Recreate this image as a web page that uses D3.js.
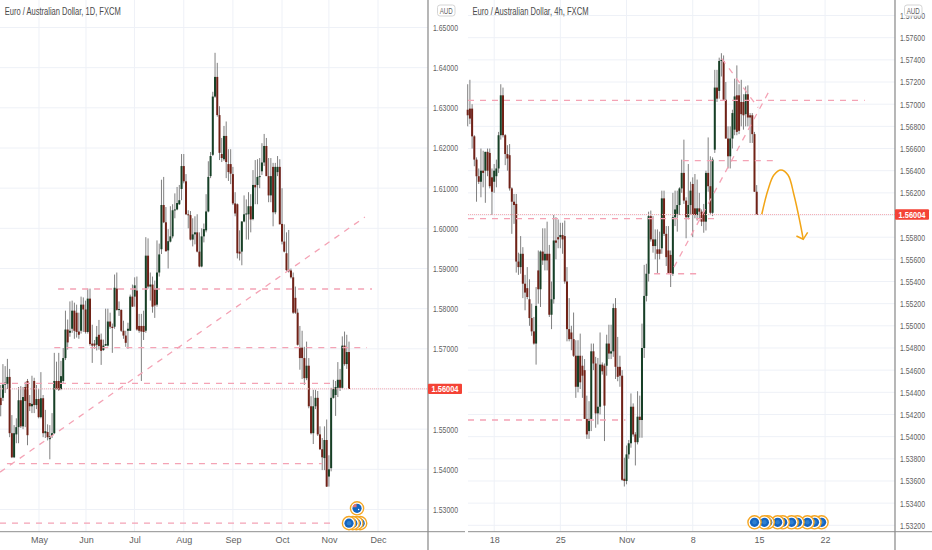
<!DOCTYPE html>
<html><head><meta charset="utf-8">
<script src="https://cdn.jsdelivr.net/npm/d3@7/dist/d3.min.js"></script>
<style>
html,body{margin:0;padding:0;background:#fff}
svg{display:block}
text{font-family:"Liberation Sans",Arial,sans-serif}
</style></head><body>
<svg id="c" width="932" height="550"></svg>
<script>
// ---- daily chart (left) ----
const dayOpen=[1.5578,1.5578,1.5611,1.5613,1.5630,1.5490,1.5430,1.5487,1.5505,1.5572,
1.5507,1.5605,1.5620,1.5565,1.5557,1.5620,1.5560,1.5575,1.5530,1.5577,
1.5490,1.5493,1.5475,1.5483,1.5490,1.5620,1.5620,1.5600,1.5620,1.5677,
1.5748,1.5740,1.5750,1.5795,1.5790,1.5743,1.5745,1.5810,1.5798,1.5742,
1.5825,1.5713,1.5713,1.5710,1.5735,1.5723,1.5697,1.5708,1.5708,1.5768,
1.5755,1.5755,1.5850,1.5797,1.5797,1.5745,1.5733,1.5745,1.5745,1.5830,
1.5830,1.5845,1.5757,1.5757,1.5757,1.5745,1.5932,1.5855,1.5860,1.5850,
1.5810,1.5890,1.5948,1.6058,1.6015,1.5945,1.5967,1.5980,1.6045,1.6047,
1.6060,1.6098,1.6155,1.6117,1.6035,1.6033,1.5972,1.5985,1.5990,1.5942,
1.5905,1.5980,1.5995,1.6042,1.6130,1.6183,1.6328,1.6377,1.6282,1.6185,
1.6172,1.6230,1.6160,1.6160,1.6135,1.6062,1.6060,1.5942,1.5942,1.6017,
1.6035,1.6035,1.6055,1.6023,1.6108,1.6108,1.6128,1.6142,1.6164,1.6205,
1.6130,1.6082,1.6153,1.6040,1.6140,1.6153,1.6011,1.5967,1.5938,1.5896,
1.5895,1.5878,1.5827,1.5790,1.5703,1.5703,1.5677,1.5627,1.5658,1.5557,
1.5490,1.5557,1.5578,1.5487,1.5450,1.5428,1.5473,1.5382,1.5403,1.5578,
1.5585,1.5603,1.5623,1.5603,1.5708,1.5662,1.5692];
const dayHigh=[1.5610,1.5662,1.5657,1.5675,1.5650,1.5535,1.5510,1.5527,1.5605,1.5607,
1.5605,1.5618,1.5625,1.5585,1.5633,1.5628,1.5610,1.5600,1.5642,1.5585,
1.5548,1.5512,1.5510,1.5540,1.5690,1.5668,1.5690,1.5670,1.5702,1.5795,
1.5773,1.5818,1.5820,1.5815,1.5810,1.5790,1.5830,1.5828,1.5820,1.5850,
1.5850,1.5760,1.5722,1.5757,1.5772,1.5738,1.5723,1.5800,1.5800,1.5790,
1.5763,1.5885,1.5890,1.5818,1.5798,1.5770,1.5745,1.5765,1.5835,1.5860,
1.5878,1.5880,1.5787,1.5787,1.5795,1.5978,1.5975,1.5890,1.5880,1.5870,
1.5970,1.5962,1.6121,1.6128,1.6053,1.5998,1.6055,1.6060,1.6087,1.6103,
1.6108,1.6185,1.6185,1.6135,1.6045,1.6043,1.6025,1.6030,1.6035,1.5990,
1.6000,1.6012,1.6085,1.6167,1.6190,1.6340,1.6437,1.6412,1.6304,1.6225,
1.6255,1.6266,1.6197,1.6197,1.6153,1.6090,1.6062,1.5995,1.6018,1.6082,
1.6072,1.6090,1.6085,1.6145,1.6170,1.6172,1.6175,1.6212,1.6235,1.6225,
1.6175,1.6175,1.6163,1.6163,1.6180,1.6172,1.6100,1.6010,1.5990,1.5996,
1.5900,1.5890,1.5855,1.5800,1.5757,1.5745,1.5705,1.5718,1.5677,1.5582,
1.5598,1.5598,1.5595,1.5507,1.5478,1.5507,1.5524,1.5435,1.5603,1.5623,
1.5620,1.5667,1.5650,1.5731,1.5743,1.5735,1.5718];
const dayLow=[1.5532,1.5570,1.5590,1.5600,1.5480,1.5428,1.5428,1.5465,1.5465,1.5503,
1.5500,1.5505,1.5460,1.5545,1.5540,1.5540,1.5550,1.5527,1.5527,1.5480,
1.5478,1.5472,1.5425,1.5478,1.5488,1.5598,1.5595,1.5597,1.5615,1.5672,
1.5698,1.5730,1.5740,1.5725,1.5728,1.5725,1.5738,1.5742,1.5738,1.5738,
1.5708,1.5665,1.5700,1.5696,1.5698,1.5660,1.5695,1.5707,1.5706,1.5750,
1.5690,1.5750,1.5795,1.5782,1.5742,1.5725,1.5705,1.5700,1.5745,1.5805,
1.5805,1.5745,1.5740,1.5620,1.5722,1.5740,1.5850,1.5820,1.5790,1.5777,
1.5805,1.5880,1.5936,1.6013,1.5942,1.5900,1.5965,1.5975,1.6025,1.6045,
1.6058,1.6070,1.6112,1.6033,1.6000,1.5970,1.5955,1.5960,1.5940,1.5903,
1.5903,1.5965,1.5990,1.6040,1.6125,1.6180,1.6325,1.6278,1.6170,1.6165,
1.6168,1.6125,1.6118,1.6110,1.6058,1.6030,1.5925,1.5920,1.5908,1.6015,
1.5972,1.5972,1.5990,1.6020,1.6060,1.6060,1.6100,1.6133,1.6155,1.6130,
1.6065,1.6065,1.6005,1.6035,1.6130,1.6010,1.5960,1.5940,1.5894,1.5890,
1.5875,1.5787,1.5787,1.5708,1.5648,1.5625,1.5610,1.5622,1.5552,1.5487,
1.5463,1.5550,1.5483,1.5448,1.5398,1.5398,1.5356,1.5357,1.5395,1.5576,
1.5533,1.5580,1.5595,1.5600,1.5658,1.5650,1.5600];
const dayClose=[1.5560,1.5611,1.5616,1.5630,1.5490,1.5430,1.5490,1.5505,1.5572,1.5507,
1.5580,1.5570,1.5485,1.5557,1.5563,1.5560,1.5575,1.5530,1.5577,1.5490,
1.5495,1.5480,1.5483,1.5490,1.5620,1.5600,1.5598,1.5632,1.5677,1.5748,
1.5716,1.5745,1.5795,1.5745,1.5742,1.5735,1.5810,1.5798,1.5742,1.5825,
1.5712,1.5708,1.5708,1.5730,1.5707,1.5695,1.5708,1.5712,1.5768,1.5755,
1.5752,1.5852,1.5797,1.5799,1.5745,1.5733,1.5715,1.5750,1.5830,1.5805,
1.5858,1.5748,1.5745,1.5743,1.5742,1.5932,1.5855,1.5860,1.5805,1.5808,
1.5890,1.5935,1.6058,1.6015,1.5943,1.5968,1.5980,1.6045,1.6047,1.6063,
1.6070,1.6155,1.6117,1.6035,1.6033,1.5972,1.5985,1.5990,1.5942,1.5905,
1.5980,1.5998,1.6042,1.6128,1.6180,1.6328,1.6377,1.6282,1.6188,1.6175,
1.6230,1.6165,1.6140,1.6136,1.6062,1.6037,1.5938,1.5937,1.6017,1.6035,
1.6037,1.6055,1.6022,1.6108,1.6102,1.6128,1.6130,1.6164,1.6205,1.6130,
1.6082,1.6130,1.6040,1.6153,1.6153,1.6010,1.5967,1.5942,1.5896,1.5893,
1.5878,1.5790,1.5790,1.5710,1.5677,1.5677,1.5627,1.5658,1.5557,1.5490,
1.5557,1.5578,1.5487,1.5450,1.5430,1.5473,1.5357,1.5400,1.5578,1.5600,
1.5605,1.5623,1.5603,1.5708,1.5662,1.5692,1.5600];
// ---- 4h chart (right) ----
const h4Open=[1.5695,1.5696,1.5696,1.5671,1.5650,1.5635,1.5630,1.5640,1.5640,1.5657,
1.5656,1.5634,1.5630,1.5635,1.5642,1.5672,1.5708,1.5672,1.5655,1.5654,
1.5624,1.5612,1.5610,1.5558,1.5553,1.5565,1.5538,1.5534,1.5524,1.5507,
1.5495,1.5484,1.5550,1.5533,1.5567,1.5559,1.5565,1.5565,1.5510,1.5524,
1.5577,1.5580,1.5580,1.5582,1.5581,1.5540,1.5497,1.5494,1.5488,1.5473,
1.5445,1.5473,1.5464,1.5460,1.5416,1.5405,1.5416,1.5477,1.5466,1.5421,
1.5427,1.5465,1.5464,1.5464,1.5484,1.5475,1.5477,1.5516,1.5463,1.5463,
1.5455,1.5362,1.5360,1.5384,1.5394,1.5427,1.5402,1.5395,1.5418,1.5415,
1.5480,1.5527,1.5547,1.5599,1.5578,1.5572,1.5569,1.5569,1.5570,1.5615,
1.5583,1.5568,1.5564,1.5547,1.5598,1.5601,1.5609,1.5624,1.5638,1.5613,
1.5598,1.5609,1.5628,1.5606,1.5600,1.5606,1.5603,1.5603,1.5594,1.5638,
1.5626,1.5602,1.5659,1.5715,1.5712,1.5739,1.5739,1.5704,1.5669,1.5653,
1.5669,1.5677,1.5708,1.5708,1.5702,1.5702,1.5691,1.5709,1.5690,1.5690,
1.5673,1.5621];
const h4High=[1.5718,1.5722,1.5700,1.5672,1.5652,1.5642,1.5660,1.5658,1.5657,1.5660,
1.5660,1.5642,1.5646,1.5650,1.5675,1.5718,1.5715,1.5673,1.5663,1.5664,
1.5625,1.5619,1.5619,1.5566,1.5581,1.5571,1.5546,1.5553,1.5542,1.5520,
1.5508,1.5535,1.5568,1.5568,1.5588,1.5588,1.5594,1.5573,1.5540,1.5600,
1.5598,1.5596,1.5593,1.5593,1.5595,1.5553,1.5525,1.5500,1.5512,1.5487,
1.5487,1.5493,1.5473,1.5470,1.5437,1.5432,1.5484,1.5484,1.5472,1.5471,
1.5494,1.5467,1.5466,1.5492,1.5501,1.5501,1.5520,1.5525,1.5490,1.5473,
1.5460,1.5381,1.5392,1.5397,1.5439,1.5430,1.5404,1.5441,1.5437,1.5502,
1.5555,1.5556,1.5603,1.5604,1.5599,1.5587,1.5587,1.5585,1.5622,1.5622,
1.5590,1.5590,1.5568,1.5620,1.5622,1.5622,1.5625,1.5650,1.5668,1.5616,
1.5646,1.5630,1.5634,1.5637,1.5632,1.5620,1.5605,1.5610,1.5640,1.5670,
1.5653,1.5652,1.5731,1.5731,1.5742,1.5746,1.5744,1.5720,1.5680,1.5680,
1.5695,1.5723,1.5735,1.5718,1.5722,1.5709,1.5716,1.5717,1.5692,1.5692,
1.5675,1.5627];
const h4Low=[1.5680,1.5682,1.5660,1.5644,1.5612,1.5628,1.5616,1.5625,1.5611,1.5635,
1.5624,1.5600,1.5620,1.5625,1.5638,1.5668,1.5670,1.5645,1.5640,1.5622,
1.5583,1.5592,1.5548,1.5546,1.5547,1.5525,1.5514,1.5524,1.5500,1.5491,
1.5483,1.5465,1.5520,1.5517,1.5555,1.5550,1.5550,1.5508,1.5497,1.5520,
1.5560,1.5570,1.5570,1.5565,1.5538,1.5486,1.5486,1.5478,1.5472,1.5435,
1.5440,1.5443,1.5435,1.5416,1.5398,1.5398,1.5405,1.5460,1.5408,1.5411,
1.5420,1.5456,1.5396,1.5455,1.5470,1.5470,1.5472,1.5452,1.5450,1.5445,
1.5360,1.5355,1.5357,1.5380,1.5390,1.5400,1.5374,1.5393,1.5399,1.5399,
1.5471,1.5522,1.5540,1.5576,1.5566,1.5560,1.5547,1.5560,1.5565,1.5581,
1.5554,1.5547,1.5535,1.5545,1.5590,1.5585,1.5600,1.5620,1.5610,1.5579,
1.5596,1.5600,1.5580,1.5597,1.5595,1.5597,1.5590,1.5584,1.5586,1.5621,
1.5600,1.5599,1.5656,1.5702,1.5705,1.5725,1.5704,1.5669,1.5642,1.5642,
1.5660,1.5672,1.5672,1.5673,1.5680,1.5677,1.5680,1.5680,1.5665,1.5665,
1.5621,1.5600];
const h4Close=[1.5690,1.5687,1.5671,1.5650,1.5635,1.5630,1.5640,1.5638,1.5657,1.5640,
1.5626,1.5621,1.5640,1.5642,1.5672,1.5708,1.5672,1.5655,1.5651,1.5624,
1.5612,1.5609,1.5558,1.5553,1.5565,1.5538,1.5530,1.5526,1.5507,1.5495,
1.5484,1.5518,1.5533,1.5567,1.5559,1.5565,1.5559,1.5510,1.5524,1.5577,
1.5575,1.5578,1.5582,1.5578,1.5540,1.5497,1.5488,1.5488,1.5473,1.5445,
1.5473,1.5449,1.5455,1.5416,1.5402,1.5416,1.5477,1.5466,1.5421,1.5427,
1.5465,1.5459,1.5428,1.5484,1.5475,1.5477,1.5516,1.5463,1.5454,1.5455,
1.5361,1.5360,1.5384,1.5394,1.5427,1.5402,1.5395,1.5418,1.5415,1.5480,
1.5527,1.5547,1.5599,1.5578,1.5572,1.5578,1.5565,1.5565,1.5615,1.5583,
1.5562,1.5547,1.5547,1.5598,1.5605,1.5609,1.5624,1.5638,1.5613,1.5598,
1.5609,1.5622,1.5600,1.5600,1.5606,1.5603,1.5594,1.5594,1.5638,1.5626,
1.5602,1.5650,1.5715,1.5705,1.5739,1.5740,1.5704,1.5669,1.5653,1.5669,
1.5692,1.5707,1.5675,1.5676,1.5691,1.5690,1.5709,1.5688,1.5688,1.5673,
1.5621,1.5600];

const lastPrice=1.56004;
const dayPriceTicks=[1.65,1.64,1.63,1.62,1.61,1.60,1.59,1.58,1.57,1.56,1.55,1.54,1.53];
const h4PriceTicks=[1.578,1.576,1.574,1.572,1.570,1.568,1.566,1.564,1.562,1.560,1.558,1.556,1.554,1.552,1.550,1.548,1.546,1.544,1.542,1.540,1.538,1.536,1.534,1.532];
const dayTimeBars=[17.15,38.2,59.9,82,104,126,147,169];
const dayTimeLabels=["May","Jun","Jul","Aug","Sep","Oct","Nov","Dec"];
const h4TimeBars=[12,42,72,102,132,162];
const h4TimeLabels=["18","25","Nov","8","15","22"];
// hand-drawn levels: [from bar, to bar, price]
const dayLevels=[[25.7,166.3,1.5849],[24,164,1.5703],[-1,148.8,1.5614],[2.8,144,1.5414],[-1,147.5,1.5266]];
const dayDiagonal=[[-0.3,1.5393],[163.1,1.6028]];
const h4Levels=[[0,180,1.57035],[97.5,140.7,1.5649],[0,112,1.55967],[84.5,105,1.5547],[0,71.5,1.5415]];
const h4Diagonals=[[[93.5,1.5553],[137.5,1.5715]],[[115.2,1.5741],[131.6,1.5697]]];
const h4ArrowBars=[133.3,136.1,138.8,142,145.2,147.9,150.6,152.1];
const h4ArrowPrices=[1.56007,1.56226,1.56361,1.56406,1.56361,1.5618,1.55937,1.55781];
const h4ArrowHeadBars=[149,152.1,154.1];
const h4ArrowHeadPrices=[1.55811,1.55781,1.55844];
const dayEventBars=[159.6,156,157.7,159.3,161];
const dayEventPrices=[1.5303,1.5266,1.5266,1.5266,1.5266];
const h4EventBars=[130,134.5,136,140.5,142.8,146.8,149.5,154,157.2,160.4];

const svg=d3.select("#c");
const defs=svg.append("defs");
defs.append("filter").attr("id","soft").attr("x","-5%").attr("y","-5%").attr("width","110%").attr("height","110%")
  .append("feGaussianBlur").attr("stdDeviation",0.3);

const COL={grid:"#eef1f7",axis:"#8e8e8e",text:"#5f5f5f",up:"#163f26",down:"#6f2018",wick:"#808080",dash:"#f4a3b5",dot:"#f6aab2",tag:"#f44336",ring:"#f5a623",blue:"#1565c0"};

function pane(cfg){
  const g=svg.append("g");
  const x=d3.scaleLinear().domain(cfg.xd).range(cfg.xr);
  const y=d3.scaleLinear().domain(cfg.yd).range(cfg.yr);
  const L=cfg.left,R=cfg.axisX,B=cfg.bottom;
  // grid
  g.append("g").selectAll("line").data(cfg.priceTicks).join("line")
    .attr("x1",L).attr("x2",R).attr("y1",d=>y(d)).attr("y2",d=>y(d)).attr("stroke",COL.grid);
  g.append("g").selectAll("line").data(cfg.timeBars).join("line")
    .attr("x1",d=>x(d)).attr("x2",d=>x(d)).attr("y1",0).attr("y2",B).attr("stroke",COL.grid);
  // candles
  const bars=d3.range(cfg.o.length).map(i=>({i,o:cfg.o[i],h:cfg.h[i],l:cfg.l[i],c:cfg.c[i]}));
  const cg=g.append("g").attr("filter","url(#soft)");
  cg.selectAll("line.w").data(bars).join("line").attr("class","w")
    .attr("x1",d=>x(d.i)).attr("x2",d=>x(d.i)).attr("y1",d=>y(d.h)).attr("y2",d=>y(d.l))
    .attr("stroke",COL.wick).attr("stroke-width",1);
  cg.selectAll("rect").data(bars).join("rect")
    .attr("x",d=>x(d.i)-1).attr("width",2)
    .attr("y",d=>Math.min(y(d.o),y(d.c))).attr("height",d=>Math.max(1,Math.abs(y(d.o)-y(d.c))))
    .attr("fill",d=>d.c>=d.o?COL.up:COL.down);
  // levels + diagonals
  cfg.levels.forEach(l=>{
    g.append("line").attr("x1",Math.max(L,x(l[0]))).attr("x2",x(l[1])).attr("y1",y(l[2])).attr("y2",y(l[2]))
     .attr("stroke",COL.dash).attr("stroke-width",1.3).attr("stroke-dasharray","6 6");
  });
  const ln=d3.line().x(d=>x(d[0])).y(d=>y(d[1]));
  cfg.diagonals.forEach(d=>{
    g.append("path").attr("d",ln(d)).attr("fill","none").attr("stroke",COL.dash).attr("stroke-width",1.3).attr("stroke-dasharray","6 6");
  });
  // last price line
  g.append("line").attr("x1",L).attr("x2",R).attr("y1",y(lastPrice)).attr("y2",y(lastPrice))
    .attr("stroke",COL.dot).attr("stroke-width",1).attr("stroke-dasharray","1 1");
  // axes lines
  svg.append("line").attr("x1",R).attr("x2",R).attr("y1",0).attr("y2",550).attr("stroke",COL.axis).attr("stroke-width",1.4).attr("opacity",.9);
  svg.append("line").attr("x1",L).attr("x2",cfg.right).attr("y1",B).attr("y2",B).attr("stroke",COL.axis).attr("stroke-width",1);
  // price labels via axis
  const ya=d3.axisRight(y).tickValues(cfg.priceTicks).tickFormat(d3.format(".5f")).tickSize(0).tickPadding(0);
  const yg=svg.append("g").attr("transform",`translate(${R+5},0)`).call(ya);
  yg.select(".domain").remove();
  yg.selectAll("text").attr("fill",COL.text).attr("font-size",9).attr("textLength",25).attr("lengthAdjust","spacingAndGlyphs").attr("dy","0.32em");
  // time labels via axis
  const xa=d3.axisBottom(x).tickValues(cfg.timeBars).tickFormat((d,i)=>cfg.timeLabels[i]).tickSize(0).tickPadding(0);
  const xg=svg.append("g").attr("transform",`translate(0,${B+5})`).call(xa);
  xg.select(".domain").remove();
  xg.selectAll("text").attr("fill",COL.text).attr("font-size",9).attr("font-family","Liberation Sans Narrow, Liberation Sans, sans-serif");
  // title
  svg.append("text").attr("x",cfg.titleX).attr("y",14.5).text(cfg.title).attr("fill","#4a4a4a").attr("font-size",10.5)
    .attr("textLength",116).attr("lengthAdjust","spacingAndGlyphs");
  // unit badge
  svg.append("rect").attr("x",cfg.badgeX).attr("y",5).attr("width",17.5).attr("height",11).attr("rx",2.5).attr("fill","#fff").attr("fill-opacity",.85).attr("stroke","#d5d5d5");
  svg.append("text").attr("x",cfg.badgeX+8.75).attr("y",14).attr("text-anchor","middle").text("AUD").attr("fill",COL.text).attr("font-size",9)
    .attr("textLength",13).attr("lengthAdjust","spacingAndGlyphs");
  // price tag
  const ty=y(lastPrice);
  svg.append("rect").attr("x",R).attr("y",ty-5.2).attr("width",34).attr("height",10.4).attr("rx",1).attr("fill",COL.tag);
  svg.append("text").attr("x",R+17).attr("y",ty+3.4).attr("text-anchor","middle").text(d3.format(".5f")(lastPrice))
    .attr("fill","#fff").attr("font-size",9).attr("font-weight","bold").attr("textLength",27).attr("lengthAdjust","spacingAndGlyphs");
  return {g,x,y,ln};
}

function badge(g,cx,cy,flag){
  g.append("circle").attr("cx",cx).attr("cy",cy).attr("r",6.6).attr("fill","#fff").attr("stroke",COL.ring).attr("stroke-width",1.4);
  g.append("circle").attr("cx",cx).attr("cy",cy).attr("r",4.6).attr("fill",COL.blue);
  if(flag){
    g.append("path").attr("d",`M${cx-4.4},${cy-1}A4.6,4.6 0 0 1 ${cx-.5},${cy-4.5}L${cx-.5},${cy-1}Z`).attr("fill","#e57373");
    g.append("circle").attr("cx",cx+1.6).attr("cy",cy+1.2).attr("r",.7).attr("fill","#fff");
  }else{
    g.append("circle").attr("cx",cx).attr("cy",cy).attr("r",2.2).attr("fill","#2f80d0");
  }
}

// ---- left pane ----
const A=pane({left:0,right:465,axisX:428,bottom:531.7,
  xd:[0,156],xr:[0.7,349],yd:[1.65,1.53],yr:[27.5,509.5],
  o:dayOpen,h:dayHigh,l:dayLow,c:dayClose,
  priceTicks:dayPriceTicks,timeBars:dayTimeBars,timeLabels:dayTimeLabels,
  levels:dayLevels,diagonals:[dayDiagonal],
  title:"Euro / Australian Dollar, 1D, FXCM",titleX:4.7,badgeX:437.5});
const evA=A.g.append("g");
[4,3,2,1,0].forEach(k=>badge(evA,A.x(dayEventBars[k]),A.y(dayEventPrices[k]),k===0));

// ---- right pane ----
const Bp=pane({left:468,right:932,axisX:895,bottom:531.7,
  xd:[0,131],xr:[467.7,756.7],yd:[1.576,1.532],yr:[37.7,525.3],
  o:h4Open,h:h4High,l:h4Low,c:h4Close,
  priceTicks:h4PriceTicks,timeBars:h4TimeBars,timeLabels:h4TimeLabels,
  levels:h4Levels,diagonals:h4Diagonals,
  title:"Euro / Australian Dollar, 4h, FXCM",titleX:472.5,badgeX:904.5});
const curve=d3.line().x(d=>Bp.x(d[0])).y(d=>Bp.y(d[1])).curve(d3.curveCatmullRom);
Bp.g.append("path").attr("d",curve(h4ArrowBars.map((b,i)=>[b,h4ArrowPrices[i]]))).attr("fill","none").attr("stroke","#f2a516").attr("stroke-width",1.5);
Bp.g.append("path").attr("d",Bp.ln(h4ArrowHeadBars.map((b,i)=>[b,h4ArrowHeadPrices[i]]))).attr("fill","none").attr("stroke","#f2a516").attr("stroke-width",1.5);
const evB=Bp.g.append("g");
h4EventBars.slice().reverse().forEach(b=>badge(evB,Bp.x(b),522.3,false));
</script>
</body></html>
